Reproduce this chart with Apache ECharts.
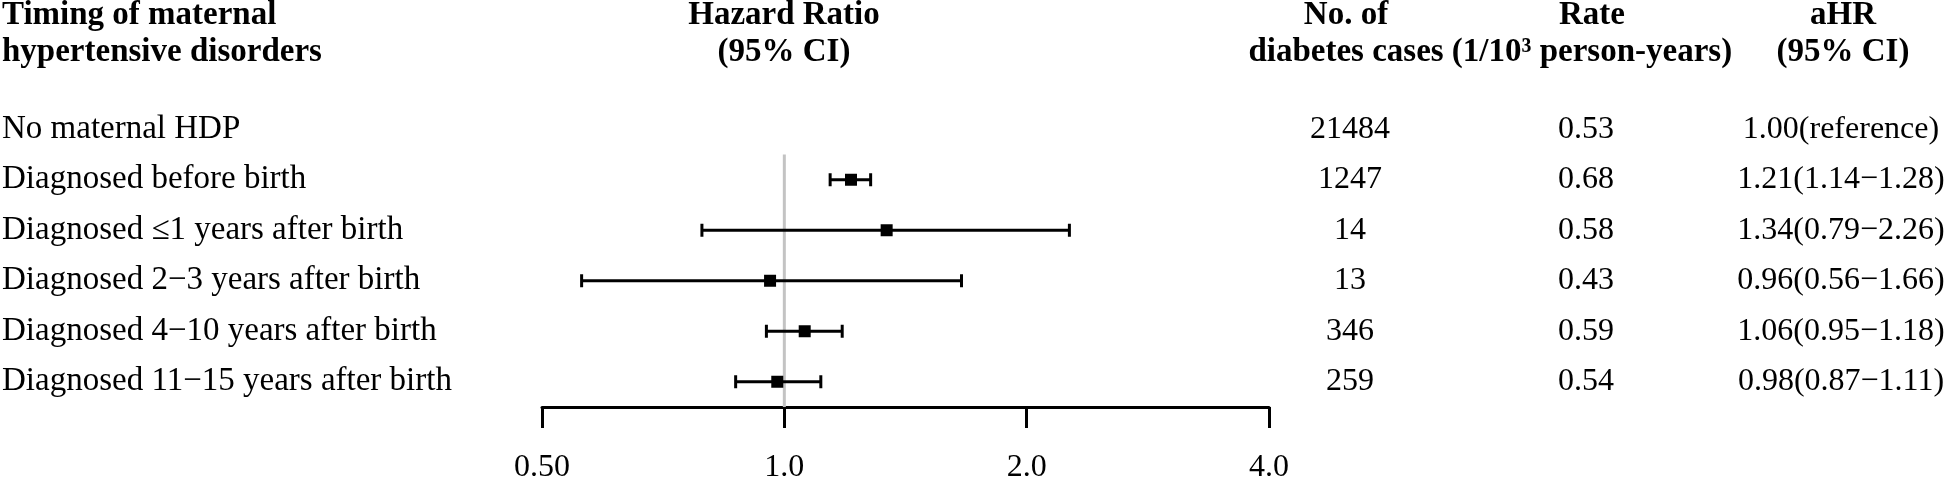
<!DOCTYPE html>
<html><head><meta charset="utf-8">
<script src="https://cdn.jsdelivr.net/npm/echarts@6/dist/echarts.min.js"></script>
<style>html,body{margin:0;padding:0;background:#fff}#c{width:1945px;height:479px}</style>
</head><body><div id="c"></div>
<script>
// ---- data ----
const categories = [
  'No maternal HDP',
  'Diagnosed before birth',
  'Diagnosed \u22641 years after birth',
  'Diagnosed 2\u22123 years after birth',
  'Diagnosed 4\u221210 years after birth',
  'Diagnosed 11\u221215 years after birth'
];
const hazardRatio = [null, 1.21, 1.34, 0.96, 1.06, 0.98];
const ciLow       = [null, 1.14, 0.79, 0.56, 0.95, 0.87];
const ciHigh      = [null, 1.28, 2.26, 1.66, 1.18, 1.11];
const diabetesCases = ['21484', '1247', '14', '13', '346', '259'];
const ratePer1000 = ['0.53', '0.68', '0.58', '0.43', '0.59', '0.54'];
const xTickLabels = ['0.50', '1.0', '2.0', '4.0'];
const referenceHR = 1;
const headerLabel = ['Timing of maternal', 'hypertensive disorders'];
const headerHR = ['Hazard Ratio', '(95% CI)'];
const headerCases = ['No. of', 'diabetes cases'];
const headerRate = ['Rate', '(1/10\u00b3 person-years)'];
const headerAHR = ['aHR', '(95% CI)'];

// ---- build ----
const FONT = '"Liberation Serif", "Times New Roman", serif';
const ahrText = hazardRatio.map((h, i) => h == null ? '1.00(reference)'
  : h.toFixed(2) + '(' + ciLow[i].toFixed(2) + '\u2212' + ciHigh[i].toFixed(2) + ')');
const ciData = [];
hazardRatio.forEach((h, i) => { if (h != null) ciData.push([h, ciLow[i], ciHigh[i], i]); });

function header(lines, x, align) {
  return lines.map((t, k) => ({
    type: 'text', x: x, y: k === 0 ? 15 : 52, z: 10,
    style: { text: t, font: 'bold 33px ' + FONT, fill: '#000', textAlign: align, textVerticalAlign: 'middle' }
  }));
}

const chart = echarts.init(document.getElementById('c'), null, { renderer: 'canvas' });
const colAxis = (margin, align, arr) => ({
  type: 'category', data: categories, inverse: true, position: 'right', offset: 0,
  axisLine: { show: false }, axisTick: { show: false }, splitLine: { show: false },
  axisLabel: { margin: margin, align: align, fontFamily: FONT, fontSize: 32, color: '#000',
    padding: [6, 0, 0, 0], formatter: (v, i) => arr[i] }
});
chart.setOption({
  animation: false,
  backgroundColor: '#fff',
  grid: { left: 542, right: 676, top: 104, bottom: 72, containLabel: false, outerBoundsMode: 'none' },
  xAxis: {
    type: 'log', logBase: 2, min: 0.5, max: 4, interval: 1,
    axisLine: { show: true, lineStyle: { color: '#000', width: 3 } },
    axisTick: { show: true, inside: false, length: 21, lineStyle: { color: '#000', width: 3 } },
    splitLine: { show: false }, minorTick: { show: false },
    axisLabel: { margin: 45, fontFamily: FONT, fontSize: 32, color: '#000',
      formatter: v => xTickLabels[Math.round(Math.log2(v)) + 1] }
  },
  yAxis: [
    { type: 'category', data: categories, inverse: true,
      axisLine: { show: false }, axisTick: { show: false }, splitLine: { show: false },
      axisLabel: { margin: 540, align: 'left', fontFamily: FONT, fontSize: 33, color: '#000', padding: [6, 0, 0, 0] } },
    colAxis(81, 'center', diabetesCases),
    colAxis(317, 'center', ratePer1000),
    colAxis(572, 'center', ahrText)
  ],
  graphic: [].concat(
    header(headerLabel, 2, 'left'),
    header(headerHR, 784, 'center'),
    header(headerCases, 1346, 'center'),
    header(headerRate, 1592, 'center'),
    header(headerAHR, 1843, 'center')
  ),
  series: [
    { type: 'custom', z: 1, data: [[referenceHR, 1]],
      encode: { x: 0, y: 1 },
      renderItem: (params, api) => {
        const p = api.coord([api.value(0), api.value(1)]);
        const band = api.size([0, 1])[1];
        const bottom = params.coordSys.y + params.coordSys.height;
        return { type: 'line', shape: { x1: p[0], y1: p[1] - band / 2, x2: p[0], y2: bottom },
          style: { stroke: '#c3c3c3', lineWidth: 3 } };
      } },
    { type: 'custom', z: 5, data: ciData,
      encode: { x: [0, 1, 2], y: 3 },
      renderItem: (params, api) => {
        const yi = api.value(3);
        const pm = api.coord([api.value(0), yi]);
        const pl = api.coord([api.value(1), yi]);
        const ph = api.coord([api.value(2), yi]);
        const y = pm[1], cap = 6.5, half = 6;
        const st = { stroke: '#000', lineWidth: 3 };
        return { type: 'group', children: [
          { type: 'line', shape: { x1: pl[0], y1: y, x2: ph[0], y2: y }, style: st },
          { type: 'line', shape: { x1: pl[0], y1: y - cap, x2: pl[0], y2: y + cap }, style: st },
          { type: 'line', shape: { x1: ph[0], y1: y - cap, x2: ph[0], y2: y + cap }, style: st },
          { type: 'rect', shape: { x: pm[0] - half, y: y - half, width: half * 2, height: half * 2 }, style: { fill: '#000' } }
        ] };
      } }
  ]
});
</script></body></html>
